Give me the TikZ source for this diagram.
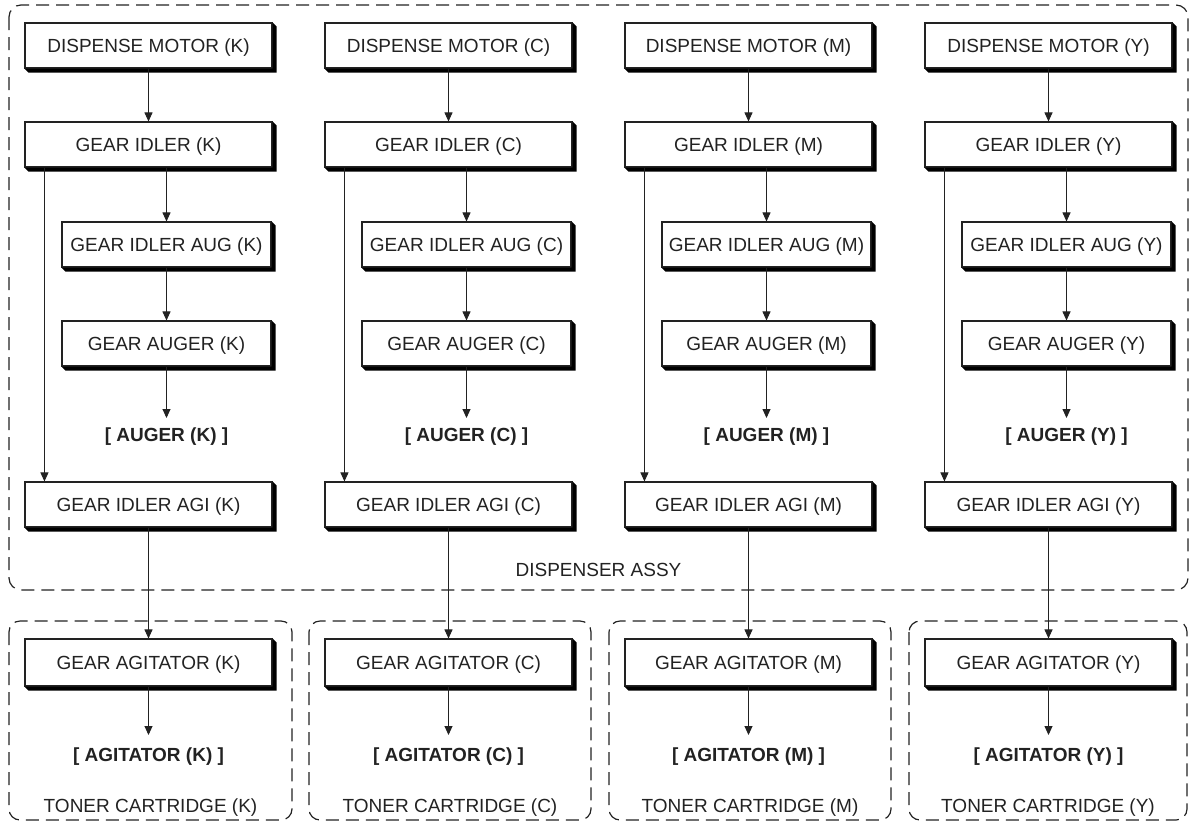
\documentclass[tikz,border=0pt]{standalone}
\usepackage{fontspec}
\setmainfont{Liberation Sans}
\usetikzlibrary{arrows.meta,calc}
\definecolor{ink}{HTML}{222222}
% bevelled drop shadow below and right of a box node
\newcommand\dropshadow[1]{%
  \fill[black] (#1.north east) -- ($(#1.north east)+(4,4)$) -- ($(#1.south east)+(4,4)$)
    -- ($(#1.south west)+(4,4)$) -- (#1.south west) -- (#1.south east) -- cycle;}
\begin{document}
\begin{tikzpicture}[x=1pt,y=-1pt,
  every node/.style={font=\fontsize{19}{22}\selectfont, text=ink, text height=13.6pt, text depth=0pt},
  unit/.style={draw=ink, line width=1.1pt, fill=white, inner sep=0pt, minimum height=45pt},
  wide/.style={unit, minimum width=247pt},
  narrow/.style={unit, minimum width=209pt},
  part/.style={inner sep=0pt, font=\fontsize{19}{22}\selectfont\bfseries},
  caption/.style={inner sep=0pt},
  flow/.style={draw=ink, line width=0.9pt, -{Triangle[length=9pt,width=8pt]}},
  group/.style={draw=ink, line width=1.2pt, dash pattern=on 13pt off 7pt, rounded corners=12pt},
]
\useasboundingbox (0,0) rectangle (1190,822);

% dispenser assembly frame
\draw[group] (9,5) rectangle (1188,590);
\node[caption] (assy) at (598.5,570) {DISPENSER ASSY};

\foreach \c/\L/\r in {0/K/292,300/C/591,600/M/891,900/Y/1187}{
  % toner cartridge frame
  \draw[group, rounded corners=11pt] (\c+9,621) rectangle (\r,820);
  \node[caption] (tc\L) at ({(\c+9+\r)/2},806) {TONER CARTRIDGE (\L)};

  \node[wide]   (dm\L) at (\c+148.5,45.5)  {DISPENSE MOTOR (\L)};
  \node[wide]   (gi\L) at (\c+148.5,144.5) {GEAR IDLER (\L)};
  \node[narrow] (ia\L) at (\c+166.5,244.5) {GEAR IDLER AUG (\L)};
  \node[narrow] (ga\L) at (\c+166.5,343.5) {GEAR AUGER (\L)};
  \node[part]   (au\L) at (\c+166.5,435)   {[ AUGER (\L) ]};
  \node[wide]   (ag\L) at (\c+148.5,504.5) {GEAR IDLER AGI (\L)};
  \node[wide, minimum height=47pt] (gt\L) at (\c+148.5,662.5) {GEAR AGITATOR (\L)};
  \node[part]   (at\L) at (\c+148.5,755)   {[ AGITATOR (\L) ]};

  \dropshadow{dm\L}
  \dropshadow{gi\L}
  \dropshadow{ia\L}
  \dropshadow{ga\L}
  \dropshadow{ag\L}
  \dropshadow{gt\L}

  \draw[flow] (dm\L) -- (gi\L);
  \draw[flow] (gi\L.south -| ia\L.north) -- (ia\L.north);
  \draw[flow] (ia\L) -- (ga\L);
  \draw[flow, shorten >=10pt] (ga\L) -- (au\L);
  \draw[flow] ([xshift=20pt]gi\L.south west) -- ([xshift=20pt]ag\L.north west);
  \draw[flow] (ag\L) -- (gt\L);
  \draw[flow, shorten >=13pt] (gt\L) -- (at\L);
}
\end{tikzpicture}
\end{document}
